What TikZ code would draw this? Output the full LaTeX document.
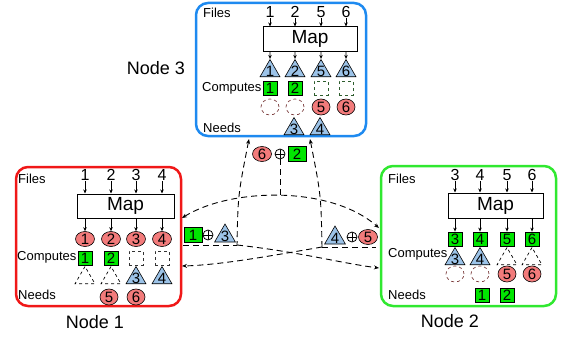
\documentclass[tikz,border=0pt]{standalone}
\usepackage{fontspec}
\setmainfont{Liberation Sans}
\usetikzlibrary{shapes.geometric,arrows.meta}
\definecolor{sqgreen}{HTML}{00E600}
\definecolor{cred}{HTML}{F27B7B}
\definecolor{tblue}{HTML}{9CC3E8}
\definecolor{bred}{HTML}{F01818}
\definecolor{bblue}{HTML}{1E8AF0}
\definecolor{bgreen}{HTML}{30E830}
\definecolor{dgreen}{HTML}{2E5E2E}
\definecolor{dbrown}{HTML}{7A3A3A}
\begin{document}
\begin{tikzpicture}[x=1pt,y=-1pt,
  fs/.style={font=\fontsize{#1}{#1}\selectfont},
  lbl/.style={fs=13,inner sep=0pt,anchor=west},
  num/.style={fs=16,inner sep=0.5pt},
  nodelbl/.style={fs=18,inner sep=0pt},
  mapbox/.style={draw,line width=1pt,fill=white,fs=19,inner sep=0pt},
  sq/.style={draw,line width=0.8pt,fill=sqgreen,minimum width=14pt,minimum height=14pt,inner sep=0pt,fs=15},
  sqd/.style={draw=dgreen,dashed,line width=0.8pt,minimum width=14pt,minimum height=14pt,inner sep=0pt},
  cir/.style={ellipse,draw,line width=0.6pt,fill=cred,minimum width=18pt,minimum height=16pt,inner sep=0pt,fs=15},
  cird/.style={ellipse,draw=dbrown,dashed,line width=0.7pt,minimum width=18pt,minimum height=16pt,inner sep=0pt},
  tri/.style={regular polygon,regular polygon sides=3,draw,line width=0.6pt,fill=tblue,minimum size=23pt,inner sep=-3pt,fs=15},
  trid/.style={regular polygon,regular polygon sides=3,draw,dashed,line width=0.7pt,minimum size=23pt,inner sep=-3pt},
  sqm/.style={sq,minimum width=18pt,minimum height=15pt},
  cirm/.style={cir,minimum width=19pt,minimum height=15pt},
  trim/.style={tri,minimum size=24pt},
  opl/.style={circle,draw,line width=0.8pt,minimum size=10pt,inner sep=0pt,
    path picture={\draw[line width=0.8pt] (path picture bounding box.north) -- (path picture bounding box.south)
      (path picture bounding box.west) -- (path picture bounding box.east);}},
  arr/.style={-{Stealth[length=4pt,width=3.5pt]},line width=0.7pt},
  dline/.style={line width=0.9pt,dash pattern=on 6pt off 4pt,{Stealth[length=5pt,width=4pt]}-{Stealth[length=5pt,width=4pt]}},
  box/.style={line width=2.5pt,rounded corners=12pt}
]
\useasboundingbox (0,0) rectangle (561,337);

% ---------------- Node 3 ----------------
\draw[box,bblue] (196,3) rectangle (366,136);
\node[nodelbl] (lbl3) at (156,68) {Node 3};
\node[lbl] (files3) at (203,13) {Files};
\node[lbl] (comp3) at (202,88) {Computes};
\node[lbl] (needs3) at (203,128) {Needs};
\node[mapbox,minimum width=94pt,minimum height=24pt] (map3) at (310,39) {Map};
\foreach \x/\t [count=\i] in {270/1,295/2,321/5,346/6}{
  \node[num] (n3-\i) at (\x,12) {\t};
  \draw[arr] (n3-\i) -- (n3-\i |- map3.north);
  \node[tri] (t3-\i) at (\x,71) {\t};
  \draw[arr] (map3.south -| t3-\i) -- (t3-\i.north);
}
\node[sq] (s3-1) at (270,88) {1};
\node[sq] (s3-2) at (295,88) {2};
\node[sqd] (s3-3) at (321,88) {};
\node[sqd] (s3-4) at (346,88) {};
\node[cird] (c3-1) at (270,107) {};
\node[cird] (c3-2) at (295,107) {};
\node[cir] (c3-3) at (321,107) {5};
\node[cir] (c3-4) at (346,107) {6};
\node[tri] (nt3-1) at (294,129) {3};
\node[tri] (nt3-2) at (320,129) {4};

% ---------------- Node 1 ----------------
\draw[box,bred] (16,167) rectangle (181,306);
\node[nodelbl] (lbl1) at (95,322) {Node 1};
\node[lbl] (files1) at (18,179) {Files};
\node[lbl] (comp1) at (17,257) {Computes};
\node[lbl] (needs1) at (18,295) {Needs};
\node[mapbox,minimum width=97pt,minimum height=24pt] (map1) at (125.5,206) {Map};
\foreach \x/\t [count=\i] in {85/1,111/2,136/3,162/4}{
  \node[num] (n1-\i) at (\x,175) {\t};
  \draw[arr] (n1-\i) -- (n1-\i |- map1.north);
  \node[cir,minimum height=15pt,minimum width=19pt] (c1-\i) at (\x,239) {\t};
  \draw[arr] (map1.south -| c1-\i) -- (c1-\i.north);
}
\node[sq] (s1-1) at (85,258) {1};
\node[sq] (s1-2) at (111,258) {2};
\node[sqd,draw=black!80] (s1-3) at (136,258) {};
\node[sqd,draw=black!80] (s1-4) at (162,258) {};
\node[trid] (t1-1) at (85,278) {};
\node[trid] (t1-2) at (111,278) {};
\node[tri] (t1-3) at (136,278) {3};
\node[tri] (t1-4) at (162,278) {4};
\node[cir] (nc1-1) at (109,297) {5};
\node[cir] (nc1-2) at (136,297) {6};

% ---------------- Node 2 ----------------
\draw[box,bgreen] (381,166) rectangle (556,306);
\node[nodelbl] (lbl2) at (450,321) {Node 2};
\node[lbl] (files2) at (388,179) {Files};
\node[lbl] (comp2) at (388,254) {Computes};
\node[lbl] (needs2) at (388,295) {Needs};
\node[mapbox,minimum width=95pt,minimum height=25pt] (map2) at (495.5,205.5) {Map};
\foreach \x/\t [count=\i] in {455/3,480/4,507/5,532/6}{
  \node[num] (n2-\i) at (\x,175) {\t};
  \draw[arr] (n2-\i) -- (n2-\i |- map2.north);
  \node[sq] (s2-\i) at (\x,239) {\t};
  \draw[arr] (map2.south -| s2-\i) -- (s2-\i.north);
}
\node[tri] (t2-1) at (455,259) {3};
\node[tri] (t2-2) at (480,259) {4};
\node[trid] (t2-3) at (507,259) {};
\node[trid] (t2-4) at (532,259) {};
\node[cird] (c2-1) at (455,274) {};
\node[cird] (c2-2) at (480,274) {};
\node[cir] (c2-3) at (507,274) {5};
\node[cir] (c2-4) at (532,274) {6};
\node[sq] (ns2-1) at (482,295) {1};
\node[sq] (ns2-2) at (507,295) {2};

% ---------------- Messages ----------------
\node[cirm] (m62a) at (262,154) {6};
\node[opl] (op62) at (280,154) {};
\node[sqm] (m62b) at (297,154) {2};

\node[sqm] (m13a) at (193,235) {1};
\node[opl] (op13) at (208,235) {};
\node[trim] (m13b) at (225,236) {3};

\node[trim] (m45a) at (335,238) {4};
\node[opl] (op45) at (352,237) {};
\node[cirm] (m45b) at (368,237) {5};

% ---------------- Connectors ----------------
\coordinate (c1t) at (182,218);
\coordinate (c2t) at (379,228);
\coordinate (j62) at (280,196);
\coordinate (c3l) at (249,139);
\coordinate (c3r) at (310,139);
\coordinate (u13a) at (183,245);
\coordinate (u13b) at (237,245);
\coordinate (u45a) at (322,247);
\coordinate (u45b) at (376,247);
\coordinate (c1b) at (182,266);
\coordinate (c2b) at (379,268);

\draw[dline,-] (op62.south) -- (j62);
\draw[dline] (c1t) .. controls (230,188) and (330,185) .. (c2t);

\draw[dline,{Stealth[length=5pt,width=4pt]}-] (c3l) .. controls (238,195) .. (u13b);
\draw[dline,-] (u13a) -- (u13b);
\draw[dline,-{Stealth[length=5pt,width=4pt]}] (u13b) .. controls (300,252) and (340,263) .. (c2b);

\draw[dline,{Stealth[length=5pt,width=4pt]}-] (c3r) .. controls (321,195) .. (u45a);
\draw[dline,-] (u45a) -- (u45b);
\draw[dline,-{Stealth[length=5pt,width=4pt]}] (u45a) .. controls (270,256) and (220,265) .. (c1b);
\end{tikzpicture}
\end{document}
